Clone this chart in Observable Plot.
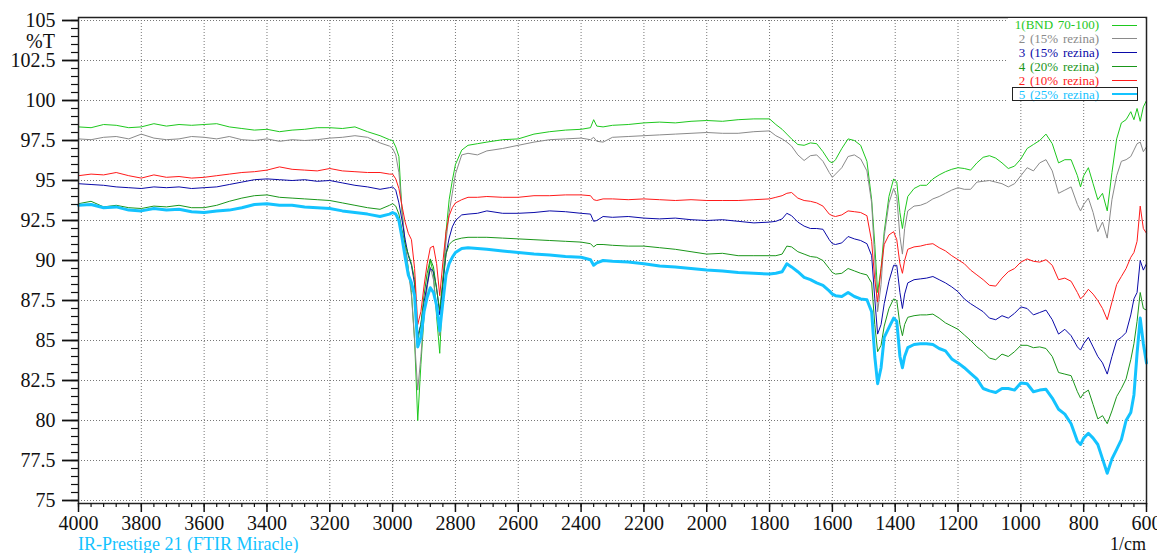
<!DOCTYPE html>
<html><head><meta charset="utf-8">
<script src="https://cdn.jsdelivr.net/npm/d3@7"></script>
<script src="https://cdn.jsdelivr.net/npm/@observablehq/plot@0.6"></script>
<style>
body{margin:0;background:#fff;}
#wrap{position:relative;width:1157px;height:553px;font-family:"Liberation Serif","Times New Roman",serif;overflow:hidden;}
#chart{position:absolute;left:0;top:0;}
.abs{position:absolute;white-space:nowrap;}
#legend{position:absolute;left:1008px;top:18px;width:137px;height:83px;background:#fff;}
.lt{position:absolute;right:46px;font-size:13px;line-height:12px;word-spacing:1.5px;}
.ll{position:absolute;left:104px;width:25px;}
#box{position:absolute;left:4px;top:69px;width:124px;height:12px;border:1.5px solid #222;}
</style></head><body>
<div id="wrap"><div id="chart"></div></div>
<script>
// wavenumbers (1/cm)
const wavenumbers = [
4000,3960,3920,3880,3840,3800,3760,3720,3680,3640,
3600,3560,3520,3480,3440,3400,3360,3320,3280,3240,
3200,3160,3120,3080,3040,3010,3000,2990,2980,2970,
2960,2950,2940,2930,2920,2910,2900,2890,2880,2870,
2860,2850,2840,2830,2820,2810,2800,2780,2760,2730,
2700,2650,2600,2550,2500,2450,2400,2370,2360,2350,
2330,2300,2250,2200,2150,2100,2050,2000,1950,1900,
1850,1800,1780,1760,1745,1730,1710,1690,1670,1650,
1630,1610,1600,1590,1570,1550,1530,1510,1490,1475,
1465,1456,1445,1435,1420,1405,1395,1385,1377,1370,
1360,1340,1320,1300,1280,1260,1240,1220,1200,1180,
1160,1140,1120,1100,1080,1060,1040,1020,1000,980,
960,940,920,900,880,860,840,820,810,800,
785,770,755,740,725,710,695,680,665,650,
640,630,620,610,600];

const bnd = [
98.35,98.3,98.5,98.45,98.3,98.35,98.55,98.4,98.5,98.45,
98.5,98.55,98.35,98.25,98.15,98.2,98.05,98.15,98.2,98.3,
98.3,98.25,98.35,98.05,97.8,97.55,97.5,97.1,96.5,93.0,
91.0,89.5,88.0,85.0,80.0,83.5,86.5,88.5,90.0,89.2,
86.5,84.2,88.5,91.8,93.8,95.0,96.0,96.9,97.2,97.3,
97.4,97.55,97.6,97.9,98.05,98.15,98.2,98.3,98.8,98.4,
98.35,98.45,98.5,98.6,98.65,98.6,98.7,98.75,98.7,98.8,
98.85,98.85,98.5,98.2,97.9,97.6,97.25,97.2,97.35,97.3,
96.8,96.2,96.1,96.3,97.0,97.6,97.5,97.2,96.2,93.8,
91.0,88.0,89.5,91.8,94.0,95.1,94.9,93.0,92.0,93.0,
94.0,94.5,94.7,94.7,95.1,95.35,95.55,95.7,95.8,95.75,
95.65,96.1,96.45,96.55,96.4,96.1,95.75,95.9,96.35,97.0,
97.25,97.5,97.9,97.3,96.1,96.3,96.3,95.3,94.6,95.3,
95.8,94.8,93.8,94.2,93.1,95.5,97.6,98.6,98.8,99.3,
98.8,99.5,98.7,99.6,100.0];

const rez15a = [
97.6,97.55,97.7,97.75,97.6,97.9,97.65,97.55,97.6,97.75,
97.7,97.6,97.75,97.55,97.5,97.6,97.45,97.55,97.5,97.55,
97.65,97.7,97.8,97.7,97.35,97.15,97.0,96.6,95.5,93.2,
91.0,89.4,87.8,85.0,81.9,84.0,86.6,88.3,89.6,88.8,
86.8,85.3,88.8,91.2,93.0,94.2,95.4,96.6,96.7,96.6,
96.85,97.0,97.2,97.4,97.55,97.6,97.65,97.55,97.7,97.45,
97.4,97.7,97.75,97.8,97.85,97.9,97.95,98.0,97.95,97.95,
98.05,98.1,97.8,97.6,97.4,97.15,96.6,96.25,96.55,96.6,
96.2,95.5,95.2,95.4,95.8,96.5,96.6,96.35,95.6,93.6,
90.0,86.8,88.5,91.5,93.6,94.5,94.0,91.5,90.4,92.0,
93.1,93.4,93.45,93.6,93.85,94.0,94.2,94.4,94.55,94.45,
94.45,94.9,94.95,95.0,94.9,94.8,94.6,94.8,95.3,95.8,
95.6,96.1,96.3,95.6,94.2,94.4,94.6,93.5,93.1,93.5,
93.9,93.0,91.8,92.4,91.4,93.8,95.3,96.2,96.3,96.5,
96.9,97.3,97.4,96.8,97.1];

const rez15b = [
94.8,94.75,94.7,94.6,94.55,94.5,94.6,94.55,94.6,94.5,
94.55,94.6,94.75,94.9,95.05,95.1,95.05,95.0,95.05,94.95,
95.0,94.85,94.7,94.6,94.45,94.55,94.6,94.4,93.6,92.5,
91.3,90.3,89.7,88.5,85.3,86.0,87.4,88.5,89.5,89.3,
88.3,86.6,88.5,90.4,91.4,92.1,92.5,92.85,92.9,92.95,
93.1,92.95,92.95,93.0,93.1,93.05,92.95,92.9,92.45,92.5,
92.75,92.7,92.75,92.65,92.6,92.65,92.55,92.5,92.55,92.45,
92.35,92.4,92.45,92.6,92.95,92.8,92.4,92.15,92.0,92.0,
91.95,91.3,91.05,91.0,91.1,91.5,91.35,91.25,91.05,90.3,
87.6,85.4,86.0,87.3,88.7,89.7,89.7,88.0,87.0,87.9,
88.6,88.8,88.85,88.9,89.0,88.8,88.6,88.35,88.05,87.6,
87.3,87.05,86.8,86.4,86.3,86.55,86.4,86.7,87.1,87.0,
86.6,86.75,86.9,86.3,85.4,85.7,85.3,84.6,84.4,84.8,
85.2,84.6,84.0,83.6,82.9,84.0,85.0,85.2,85.5,86.6,
87.6,88.0,90.0,89.4,89.8];

const rez20 = [
93.55,93.7,93.35,93.45,93.3,93.25,93.4,93.35,93.45,93.3,
93.3,93.45,93.7,93.9,94.05,94.1,93.95,93.9,93.85,93.8,
93.75,93.6,93.45,93.3,93.2,93.45,93.55,93.4,92.9,91.9,
91.0,90.4,89.8,88.8,85.0,86.0,87.8,89.2,90.1,89.6,
88.2,86.9,88.8,90.4,91.0,91.2,91.3,91.4,91.45,91.45,
91.45,91.4,91.35,91.3,91.25,91.2,91.15,91.05,90.85,91.0,
91.0,90.95,90.9,90.9,90.8,90.7,90.55,90.4,90.45,90.3,
90.3,90.3,90.3,90.4,90.9,90.85,90.55,90.4,90.25,90.2,
90.0,89.5,89.25,89.15,89.2,89.5,89.35,89.2,89.1,88.6,
86.0,84.3,84.7,85.9,87.0,87.6,87.5,86.0,85.3,86.0,
86.45,86.55,86.6,86.6,86.65,86.4,86.1,85.9,85.7,85.35,
85.0,84.6,84.3,83.9,83.8,84.15,84.0,84.3,84.7,84.7,
84.55,84.6,84.5,84.0,83.0,82.9,82.8,81.8,81.4,81.7,
81.9,81.0,80.1,80.3,79.8,80.6,81.5,82.0,82.6,83.8,
84.8,86.2,88.0,87.0,86.9];

const rez10 = [
95.3,95.4,95.35,95.5,95.3,95.15,95.35,95.2,95.25,95.15,
95.2,95.3,95.4,95.5,95.55,95.65,95.85,95.7,95.65,95.6,
95.75,95.6,95.55,95.5,95.5,95.4,95.4,95.1,94.5,93.4,
92.4,91.7,91.3,89.5,86.0,86.8,88.4,89.8,90.8,90.9,
89.8,87.8,89.9,91.8,92.8,93.3,93.6,93.8,93.95,93.95,
94.0,93.95,93.95,94.05,94.05,94.1,94.1,94.05,93.8,93.75,
93.85,93.85,93.8,93.85,93.8,93.75,93.8,93.75,93.75,93.75,
93.8,93.85,93.95,94.05,94.2,94.25,93.9,93.75,93.7,93.6,
93.4,92.9,92.8,92.75,92.85,93.1,93.05,93.0,92.8,91.2,
88.8,87.4,89.5,91.0,91.6,91.8,91.3,89.8,89.2,90.0,
90.7,90.85,90.9,91.0,91.05,90.8,90.6,90.3,90.05,89.8,
89.4,89.1,88.8,88.45,88.4,88.9,89.3,89.5,89.9,90.1,
89.95,89.9,90.05,89.7,88.8,88.9,88.7,88.0,87.6,87.8,
88.2,87.9,87.5,87.0,86.3,87.4,88.5,89.0,89.5,90.2,
90.5,91.2,93.4,92.0,91.7];

const rez25 = [
93.45,93.5,93.3,93.35,93.15,93.1,93.25,93.15,93.2,93.05,
93.0,93.1,93.15,93.3,93.5,93.55,93.45,93.45,93.35,93.3,
93.25,93.1,93.0,92.9,92.75,92.9,93.0,92.9,92.5,91.4,
90.2,89.1,88.6,87.8,84.6,85.2,86.8,87.7,88.3,88.0,
87.2,85.6,87.4,89.1,89.8,90.2,90.5,90.75,90.8,90.75,
90.7,90.6,90.5,90.4,90.35,90.25,90.2,90.05,89.7,89.85,
90.0,89.95,89.9,89.8,89.65,89.6,89.5,89.4,89.35,89.25,
89.2,89.15,89.2,89.3,89.8,89.6,89.3,88.95,88.8,88.6,
88.45,88.1,87.9,87.8,87.75,88.0,87.75,87.6,87.55,86.8,
84.0,82.3,83.3,85.2,85.8,86.4,86.2,84.0,83.3,84.0,
84.55,84.75,84.8,84.8,84.75,84.5,84.35,83.85,83.6,83.3,
82.95,82.6,82.0,81.85,81.75,82.0,82.0,81.9,82.35,82.3,
81.8,81.9,81.95,81.4,80.7,80.4,79.8,78.7,78.5,78.9,
79.2,78.9,78.5,77.6,76.7,77.6,78.2,78.8,80.0,80.5,
81.6,84.2,86.4,84.8,83.6];

const seriesNames = ["1(BND 70-100)","2 (15% rezina)","3 (15% rezina)","4 (20% rezina)","2 (10% rezina)","5 (25% rezina)"];
const seriesValues = [bnd, rez15a, rez15b, rez20, rez10, rez25];
const seriesColors = ["#1ec81e","#8a8a8a","#0a0aa8","#1a961a","#ff1a1a","#14c3ff"];
const seriesWidths = [1, 1, 1, 1, 1, 3];

const xMajorTicks = d3.range(600, 4001, 200);
const xMinorTicks = d3.range(600, 4001, 40);
const yMajorTicks = d3.range(75, 105.01, 2.5);
const yMinorTicks = d3.range(75, 105.01, 0.5);

const lineMarks = seriesNames.map((name, k) => {
  const data = wavenumbers.map((w, i) => ({w, v: seriesValues[k][i]})).filter(d => d.v != null);
  return Plot.line(data, {x: "w", y: "v", stroke: seriesColors[k], strokeWidth: seriesWidths[k], strokeLinejoin: "round"});
});

const plot = Plot.plot({
  width: 1157, height: 553,
  marginLeft: 78, marginRight: 11, marginTop: 17, marginBottom: 50,
  x: {domain: [4000, 600], axis: null},
  y: {domain: [74.8125, 105.1875], axis: null},
  style: {fontFamily: "'Liberation Serif', 'Times New Roman', serif", fontSize: "20px", color: "#111", background: "#fff"},
  marks: [
    Plot.gridX(xMajorTicks, {stroke: "#777", strokeOpacity: 1, strokeDasharray: "1,2"}),
    Plot.gridY(yMajorTicks, {stroke: "#777", strokeOpacity: 1, strokeDasharray: "1,2"}),
    ...lineMarks,
    Plot.frame({stroke: "#222", strokeWidth: 1.5}),
    Plot.axisX(xMinorTicks, {tickSize: 4, tickFormat: () => "", label: null, strokeWidth: 1.2}),
    Plot.axisX(xMajorTicks, {tickSize: 9, tickPadding: 3, fontSize: 20, tickFormat: d => String(d), label: null, strokeWidth: 1.5}),
    Plot.axisY(yMinorTicks, {tickSize: 7, tickFormat: () => "", label: null, strokeWidth: 1.2}),
    Plot.axisY(yMajorTicks, {tickSize: 16, tickPadding: 7, fontSize: 20, tickFormat: d => String(d), label: null, strokeWidth: 1.8})
  ]
});
const wrap = document.getElementById("wrap");
document.getElementById("chart").appendChild(plot);

// %T unit label
const unit = document.createElement("div");
unit.className = "abs";
unit.style.cssText = "right:1102px;top:35px;font-size:20px;line-height:13px;color:#111;";
unit.textContent = "%T";
wrap.appendChild(unit);

// legend
const legend = document.createElement("div");
legend.id = "legend";
seriesNames.forEach((name, k) => {
  const cy = 7 + k * 13.9;
  const t = document.createElement("div");
  t.className = "lt";
  t.style.top = (cy - 6) + "px";
  t.style.color = seriesColors[k];
  t.textContent = name;
  legend.appendChild(t);
  const l = document.createElement("div");
  l.className = "ll";
  l.style.top = (cy - seriesWidths[k] / 2) + "px";
  l.style.height = Math.max(1, seriesWidths[k] - 1) + "px";
  l.style.background = seriesColors[k];
  legend.appendChild(l);
});
const box = document.createElement("div");
box.id = "box";
legend.appendChild(box);
wrap.appendChild(legend);

// footer texts
const foot = document.createElement("div");
foot.className = "abs";
foot.style.cssText = "left:78px;top:537px;font-size:18px;line-height:14px;color:#14c3ff;";
foot.textContent = "IR-Prestige 21 (FTIR Miracle)";
wrap.appendChild(foot);
const unitX = document.createElement("div");
unitX.className = "abs";
unitX.style.cssText = "right:11px;top:537px;font-size:18px;line-height:14px;color:#111;";
unitX.textContent = "1/cm";
wrap.appendChild(unitX);
</script>
</body></html>
